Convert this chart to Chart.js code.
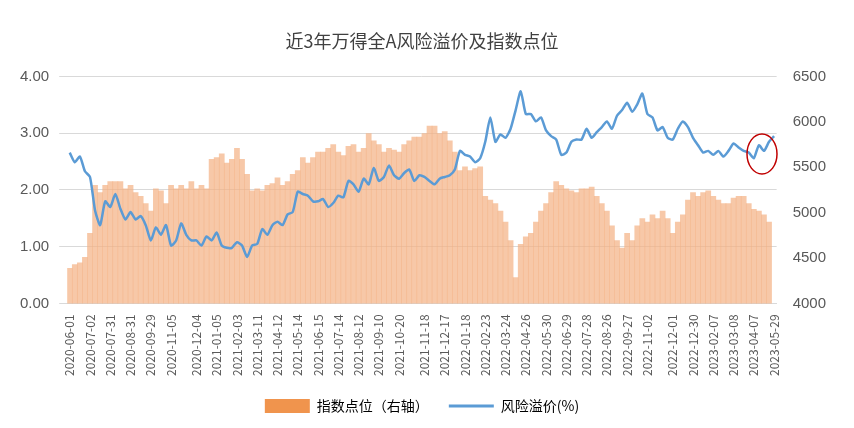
<!DOCTYPE html>
<html lang="zh">
<head>
<meta charset="UTF-8" />
<title>近3年万得全A风险溢价及指数点位</title>
<script src="https://cdn.jsdelivr.net/npm/chart.js"></script>
<style>
    body { margin: 0; background: #fff; font-family: "Noto Sans CJK SC", "Noto Sans", sans-serif; }
</style>
</head>
<body>
<canvas id="c" width="854" height="428"></canvas>
<script>
    const tickDates = ['2020-06-01', '2020-07-02', '2020-07-31', '2020-08-31', '2020-09-29', '2020-11-05', '2020-12-04',
        '2021-01-05', '2021-02-03', '2021-03-11', '2021-04-12', '2021-05-14', '2021-06-15', '2021-07-14', '2021-08-12',
        '2021-09-10', '2021-10-20', '2021-11-18', '2021-12-17', '2022-01-18', '2022-02-23', '2022-03-24', '2022-04-26',
        '2022-05-30', '2022-06-29', '2022-07-28', '2022-08-26', '2022-09-27', '2022-11-02', '2022-12-01', '2022-12-30',
        '2023-02-07', '2023-03-08', '2023-04-07', '2023-05-29'];

    // 风险溢价(%)
    const premium = [2.66, 2.49, 2.59, 2.33, 2.23, 1.64, 1.38, 1.80, 1.70, 1.93,
        1.67, 1.48, 1.61, 1.48, 1.54, 1.38, 1.11, 1.34, 1.21, 1.38,
        1.02, 1.11, 1.41, 1.21, 1.11, 1.11, 1.02, 1.18, 1.11, 1.25,
        1.02, 0.98, 0.98, 1.08, 1.02, 0.82, 1.02, 1.05, 1.31, 1.21,
        1.38, 1.44, 1.38, 1.57, 1.61, 1.97, 1.93, 1.90, 1.80, 1.80,
        1.84, 1.70, 1.77, 1.90, 1.87, 2.16, 2.10, 1.97, 2.20, 2.10,
        2.39, 2.16, 2.23, 2.43, 2.26, 2.20, 2.30, 2.36, 2.16,
        2.26, 2.23, 2.16, 2.10, 2.20, 2.23, 2.26, 2.36, 2.69, 2.62,
        2.59, 2.49, 2.56, 2.85, 3.28, 2.85, 2.98, 2.92, 3.08, 3.41,
        3.74, 3.34, 3.34, 3.21, 3.28, 3.05, 2.95, 2.89, 2.62, 2.66,
        2.85, 2.89, 2.89, 3.08, 2.92, 3.02, 3.11, 3.21, 3.08, 3.31,
        3.41, 3.54, 3.38, 3.51, 3.70, 3.34, 3.28, 3.05, 3.11, 2.92,
        2.89, 3.08, 3.21, 3.11, 2.92, 2.79, 2.66, 2.69, 2.62, 2.69,
        2.59, 2.69, 2.82, 2.75, 2.69, 2.66, 2.56, 2.79, 2.69, 2.85, 2.95];

    // 指数点位
    const indexLevel = [4387, 4427, 4448, 4509, 4773, 5302, 5221, 5302, 5343, 5343,
        5343, 5262, 5302, 5221, 5180, 5099, 5017, 5262, 5241, 5099,
        5302, 5262, 5302, 5262, 5343, 5262, 5302, 5262, 5587, 5607,
        5648, 5547, 5587, 5709, 5587, 5424, 5241, 5262, 5241, 5302,
        5322, 5384, 5302, 5343, 5424, 5465, 5607, 5547, 5607, 5669,
        5669, 5709, 5750, 5669, 5628, 5730, 5750, 5669, 5709, 5872,
        5791, 5750, 5669, 5709, 5689, 5669, 5750, 5791, 5832,
        5832, 5872, 5954, 5954, 5872, 5893, 5791, 5669, 5465, 5506,
        5465, 5485, 5506, 5180, 5140, 5099, 5017, 4895, 4692, 4285,
        4651, 4733, 4773, 4895, 5017, 5099, 5221, 5343, 5302, 5262,
        5241, 5221, 5262, 5262, 5282, 5180, 5099, 5017, 4855, 4692,
        4611, 4773, 4692, 4855, 4936, 4895, 4977, 4936, 5017, 4936,
        4773, 4895, 4977, 5140, 5221, 5180, 5221, 5241, 5180, 5140,
        5099, 5099, 5160, 5180, 5180, 5099, 5038, 5017, 4977, 4895];

    const n = premium.length;
    const labels = new Array(n).fill('');
    tickDates.forEach((d, i) => { labels[Math.round(i * (n - 1) / (tickDates.length - 1))] = d; });

    // 右上角标注的红圈
    const circlePlugin = {
        id: 'circle',
        afterDatasetsDraw(chart) {
            const { ctx } = chart;
            ctx.save();
            ctx.strokeStyle = '#C00000';
            ctx.lineWidth = 1.5;
            ctx.beginPath();
            ctx.ellipse(762, 154, 15, 20, 0, 0, Math.PI * 2);
            ctx.stroke();
            ctx.restore();
        }
    };

    new Chart(document.getElementById('c'), {
        data: {
            labels: labels,
            datasets: [
                {
                    type: 'line',
                    label: '风险溢价(%)',
                    data: premium,
                    yAxisID: 'y',
                    borderColor: '#5B9BD5',
                    backgroundColor: '#5B9BD5',
                    borderWidth: 2.5,
                    pointRadius: 0,
                    tension: 0.2,
                    order: 1
                },
                {
                    type: 'bar',
                    label: '指数点位（右轴）',
                    data: indexLevel,
                    yAxisID: 'y1',
                    backgroundColor: 'rgba(244,177,131,0.7)',
                    barPercentage: 1,
                    categoryPercentage: 1,
                    order: 2
                }
            ]
        },
        options: {
            responsive: false,
            animation: false,
            layout: { padding: { left: 10, right: 20, top: 10, bottom: 5 } },
            plugins: {
                title: {
                    display: true,
                    text: '近3年万得全A风险溢价及指数点位',
                    color: '#404040',
                    font: { size: 18, family: 'Noto Sans CJK SC', weight: 'normal' },
                    padding: { top: 20, bottom: 25 }
                },
                legend: {
                    position: 'bottom',
                    labels: {
                        usePointStyle: true,
                        pointStyleWidth: 45,
                        color: '#404040',
                        padding: 20,
                        font: { size: 14, family: 'Noto Sans CJK SC' },
                        generateLabels: chart => [
                            { text: '指数点位（右轴）', fillStyle: '#F0944D', strokeStyle: '#F0944D', lineWidth: 0, pointStyle: 'rect', datasetIndex: 1 },
                            { text: '风险溢价(%)', fillStyle: '#5B9BD5', strokeStyle: '#5B9BD5', lineWidth: 3, pointStyle: 'line', datasetIndex: 0 }
                        ]
                    }
                }
            },
            scales: {
                x: {
                    grid: { display: false },
                    border: { color: '#D9D9D9' },
                    ticks: {
                        autoSkip: false,
                        maxRotation: 90,
                        minRotation: 90,
                        color: '#595959',
                        font: { size: 12, family: 'Noto Sans CJK SC' },
                        callback: (v, i) => labels[i]
                    }
                },
                y: {
                    position: 'left',
                    min: 0,
                    max: 4,
                    ticks: { stepSize: 1, color: '#595959', font: { size: 15 }, callback: v => v.toFixed(2), padding: 10 },
                    grid: { color: '#D9D9D9' },
                    border: { display: false }
                },
                y1: {
                    position: 'right',
                    min: 4000,
                    max: 6500,
                    ticks: { stepSize: 500, color: '#595959', font: { size: 15 }, callback: v => String(v), padding: 8 },
                    grid: { display: false },
                    border: { display: false }
                }
            }
        },
        plugins: [circlePlugin]
    });
</script>
</body>
</html>
